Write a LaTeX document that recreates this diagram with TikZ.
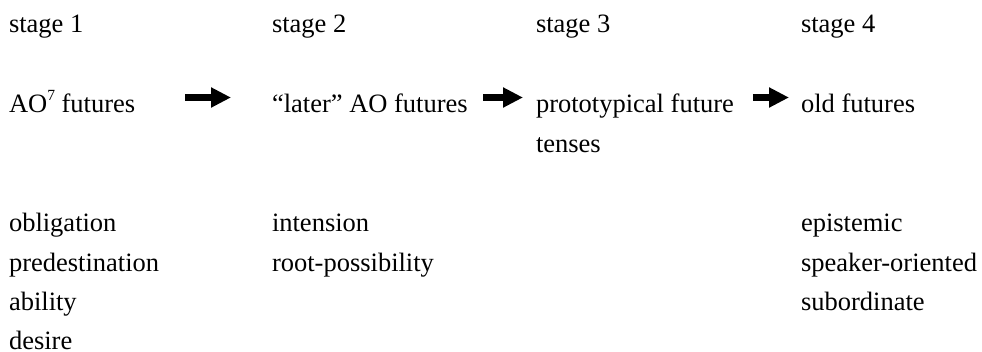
\documentclass[tikz,border=0pt]{standalone}
\usepackage{fontspec}
\setmainfont{Liberation Serif}
\usetikzlibrary{arrows.meta}
\newcommand{\supseven}{{\fontsize{15.5bp}{16bp}\selectfont\raisebox{12bp}{7}}}
\tikzset{
  txt/.style={anchor=base west, inner sep=0pt, outer sep=0pt,
    font=\fontsize{26.5bp}{40bp}\selectfont},
  bigarrow/.style={line width=7bp, line cap=butt,
    -{Triangle[length=20bp,width=19bp]}}
}
\begin{document}
\begin{tikzpicture}[x=1bp,y=-1bp]
\fill[white] (0,0) rectangle (982,351);
\useasboundingbox (0,0) rectangle (982,351);
% stage headings
\node[txt] (st1) at (9,32) {stage 1};
\node[txt] (st2) at (272,32) {stage 2};
\node[txt] (st3) at (536,32) {stage 3};
\node[txt] (st4) at (801,32) {stage 4};
% main row
\node[txt] (a1) at (9,112.3) {AO\supseven{} futures};
\node[txt] (a2) at (272,112.3) {“later” AO futures};
\node[txt] (a3) at (536,112.3) {prototypical future};
\node[txt] (a3b) at (536,152) {tenses};
\node[txt] (a4) at (801,112.3) {old futures};
% arrows
\draw[bigarrow, shorten <=50bp, shorten >=41bp]
  ([yshift=14.8bp]a1.base east) -- ([yshift=14.8bp]a2.base west);
\draw[bigarrow, shorten <=15.3bp, shorten >=13bp]
  ([yshift=14.8bp]a2.base east) -- ([yshift=14.8bp]a3.base west);
\draw[bigarrow, shorten <=19bp, shorten >=12bp]
  ([yshift=14.8bp]a3.base east) -- ([yshift=14.8bp]a4.base west);
% column 1 meanings
\node[txt] (m1a) at (9,231.7) {obligation};
\node[txt] (m1b) at (9,271.2) {predestination};
\node[txt] (m1c) at (9,310.8) {ability};
\node[txt] (m1d) at (9,349.4) {desire};
% column 2 meanings
\node[txt] (m2a) at (272,231.7) {intension};
\node[txt] (m2b) at (272,271.2) {root-possibility};
% column 4 meanings
\node[txt] (m4a) at (801,231.7) {epistemic};
\node[txt] (m4b) at (801,271.2) {speaker-oriented};
\node[txt] (m4c) at (801,310.8) {subordinate};
\end{tikzpicture}
\end{document}
